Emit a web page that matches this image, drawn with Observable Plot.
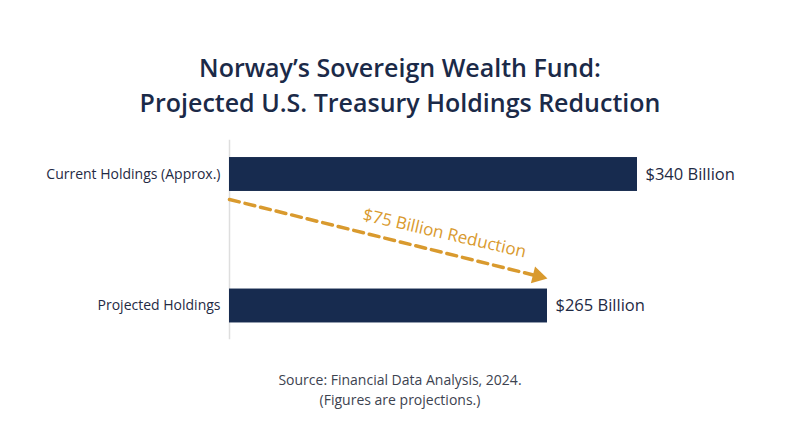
<!DOCTYPE html>
<html>
<head>
<meta charset="utf-8">
<script src="https://cdn.jsdelivr.net/npm/d3@7"></script>
<script src="https://cdn.jsdelivr.net/npm/@observablehq/plot@0.6"></script>
<style>
  html, body { margin: 0; padding: 0; background: #ffffff; }
  body { width: 800px; height: 447px; position: relative; overflow: hidden; font-family: "Open Sans", sans-serif; }
  #title { position: absolute; left: 0; top: 50px; width: 800px; text-align: center; font-size: 25px; font-weight: 600; line-height: 35px; color: #1b2a48; }
  #chart { position: absolute; left: 0; top: 130px; }
  .cap { position: absolute; left: 0; width: 800px; text-align: center; font-size: 14px; line-height: 20px; color: #3d4350; }
  #cap1 { top: 370px; }
  #cap2 { top: 390px; }
</style>
</head>
<body>
<div id="title">Norway’s Sovereign Wealth Fund:<br>Projected U.S. Treasury Holdings Reduction</div>
<div id="chart"></div>
<div class="cap" id="cap1">Source: Financial Data Analysis, 2024.</div>
<div class="cap" id="cap2">(Figures are projections.)</div>
<script>
const categories = ["Current Holdings (Approx.)", "Projected Holdings"];
const values = [340, 265];
const valueLabels = ["$340 Billion", "$265 Billion"];
const reductionLabel = "$75 Billion Reduction";

const navy = "#172b4f";
const orange = "#d99a2e";
const textColor = "#1f2a44";

const data = categories.map((c, i) => ({category: c, index: i, value: values[i], label: valueLabels[i]}));

const barHalf = 0.129;
const arrowStart = 0.19;   // below the current bar centre
const arrowEnd = 0.209;    // above the projected bar centre
const arrowData = [{x1: 0, x2: values[1], y1: 0 + arrowStart, y2: 1 - arrowEnd}];
const labelData = [{x: values[1] / 2, y: (arrowData[0].y1 + arrowData[0].y2) / 2, text: reductionLabel}];

const chart = Plot.plot({
  width: 800,
  height: 220,
  marginLeft: 229,
  marginRight: 163,
  marginTop: 10,
  marginBottom: 12,
  style: {fontFamily: "Open Sans, sans-serif", background: "transparent"},
  x: {domain: [0, values[0]], axis: null},
  y: {domain: [0, 1], range: [44, 175.5], axis: null},
  marks: [
    Plot.frame({anchor: "left", stroke: "#dedede", strokeWidth: 1.5}),
    Plot.rectX(data, {x: "value", y1: d => d.index - barHalf, y2: d => d.index + barHalf, fill: navy}),
    Plot.text(data, {x: 0, y: "index", text: "category", textAnchor: "end", dx: -9, fontSize: 14, fill: textColor}),
    Plot.text(data, {x: "value", y: "index", text: "label", textAnchor: "start", dx: 8, fontSize: 16.5, fill: textColor}),
    Plot.arrow(arrowData, {x1: "x1", x2: "x2", y1: "y1", y2: "y2", stroke: orange, strokeWidth: 3.5, strokeDasharray: "10,6", headLength: 0, insetEnd: 10}),
    Plot.dot(arrowData, {x: "x2", y: "y2", symbol: "triangle", r: 6.4, rotate: 103.9, dx: -9.7, dy: -2.4, fill: orange, stroke: "none"}),
    Plot.text(labelData, {x: "x", y: "y", text: "text", rotate: 13, dx: 56, dy: -5.5, fontSize: 17, fill: orange})
  ]
});
document.getElementById("chart").appendChild(chart);
</script>
</body>
</html>
